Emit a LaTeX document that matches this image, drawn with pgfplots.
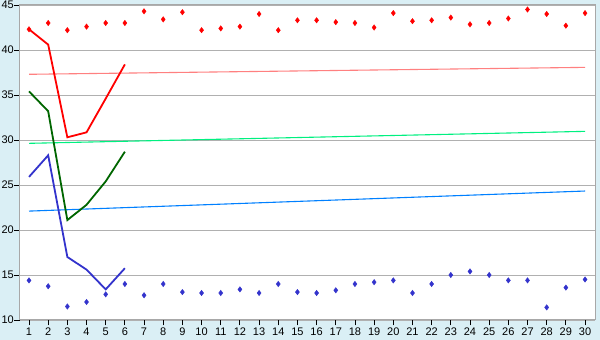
\documentclass[border=0pt]{standalone}
\usepackage{fontspec}
\setmainfont{Liberation Sans}
\usepackage{pgfplots}
\pgfplotsset{compat=1.18}
\definecolor{bgblue}{RGB}{218,239,245}
\definecolor{gridgray}{RGB}{176,176,176}
\definecolor{framegray}{RGB}{168,168,168}
\definecolor{linered}{RGB}{255,0,0}
\definecolor{linegreen}{RGB}{0,102,0}
\definecolor{lineblue}{RGB}{51,51,204}
\definecolor{trendred}{RGB}{255,128,128}
\definecolor{trendgreen}{RGB}{0,240,128}
\definecolor{trendblue}{RGB}{0,128,255}
\begin{document}
\begin{tikzpicture}[x=1pt,y=1pt]
\fill[bgblue] (0,0) rectangle (600,340);
\begin{axis}[
  at={(20pt,20pt)}, anchor=south west,
  scale only axis, width=575pt, height=315pt,
  xmin=0.53, xmax=30.52, ymin=10, ymax=45,
  xtick={1,...,30}, ytick={10,15,...,45},
  tick pos=left, tick align=outside, major tick length=5.5pt,
  tick style={black, line width=0.9pt},
  axis background/.style={fill=white},
  axis line style={framegray, line width=1pt},
  ymajorgrids, major grid style={gridgray, line width=0.9pt},
  every tick label/.append style={font=\fontsize{11}{13}\selectfont},
  /pgf/number format/assume math mode=true,
  xticklabel style={inner sep=1pt, yshift=-1.5pt},
  yticklabel style={inner sep=0.5pt},
  clip=false,
]
% scatter red
\addplot[only marks, mark=diamond*, mark size=2.7pt, color=linered] coordinates {
(1,42.3)(2,43.0)(3,42.2)(4,42.6)(5,43.0)(6,43.0)(7,44.3)(8,43.4)(9,44.2)(10,42.2)
(11,42.4)(12,42.6)(13,44.0)(14,42.2)(15,43.3)(16,43.3)(17,43.1)(18,43.0)(19,42.5)(20,44.1)
(21,43.2)(22,43.3)(23,43.6)(24,42.85)(25,43.0)(26,43.5)(27,44.5)(28,44.0)(29,42.7)(30,44.1)};
% scatter blue
\addplot[only marks, mark=diamond*, mark size=2.7pt, color=lineblue] coordinates {
(1,14.4)(2,13.75)(3,11.5)(4,12.0)(5,12.85)(6,14.0)(7,12.75)(8,14.0)(9,13.1)(10,13.0)
(11,13.0)(12,13.4)(13,13.0)(14,14.0)(15,13.1)(16,13.0)(17,13.3)(18,14.0)(19,14.2)(20,14.4)
(21,13.0)(22,14.0)(23,15.0)(24,15.4)(25,15.0)(26,14.4)(27,14.4)(28,11.4)(29,13.6)(30,14.5)};
% trend lines
\addplot[trendred, line width=1.1pt] coordinates {(1,37.3)(30,38.07)};
\addplot[trendgreen, line width=1.1pt] coordinates {(1,29.63)(30,30.96)};
\addplot[trendblue, line width=1.1pt] coordinates {(1,22.1)(30,24.33)};
% lines
\addplot[linered, line width=1.8pt] coordinates {(1,42.3)(2,40.6)(3,30.3)(4,30.85)(5,34.6)(6,38.4)};
\addplot[linegreen, line width=1.8pt] coordinates {(1,35.4)(2,33.2)(3,21.1)(4,22.8)(5,25.4)(6,28.7)};
\addplot[lineblue, line width=1.8pt] coordinates {(1,25.9)(2,28.3)(3,17.0)(4,15.6)(5,13.4)(6,15.75)};
\end{axis}
\pgfresetboundingbox
\path (0,0) rectangle (600,340);
\end{tikzpicture}
\end{document}
